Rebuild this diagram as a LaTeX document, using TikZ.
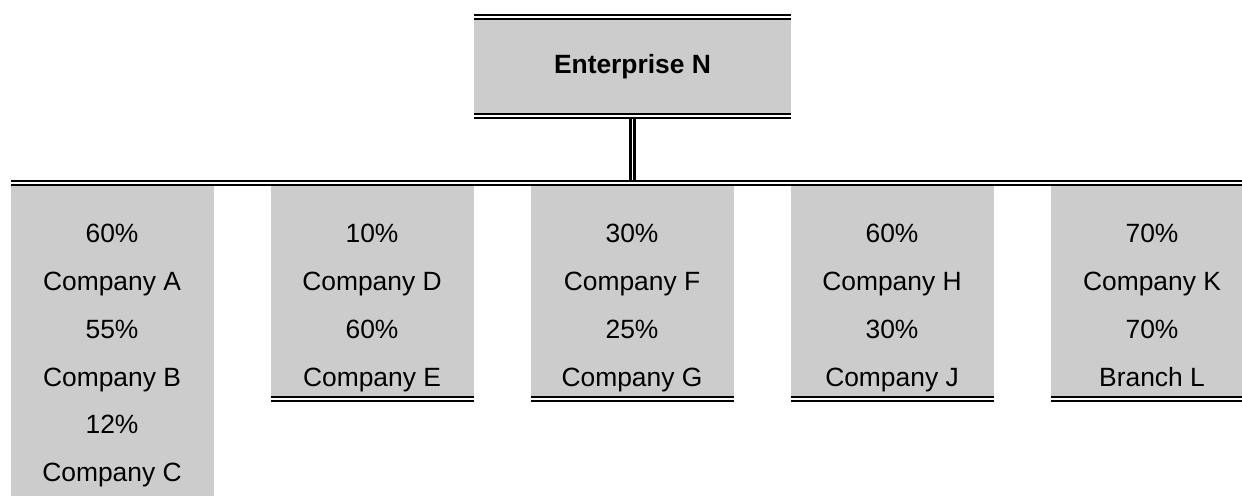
\documentclass[tikz,border=0pt]{standalone}
\usepackage{fontspec}
\setmainfont{Liberation Sans}
\usetikzlibrary{positioning}
\definecolor{boxgray}{HTML}{CCCCCC}

\begin{document}
\begin{tikzpicture}[node distance=28.5pt,
    dline/.style={draw=black,line width=1.15pt,double=white,double distance=0.9pt},
    unit box/.style={rectangle,fill=boxgray,inner sep=0pt,outer sep=0pt,minimum width=101.5pt,minimum height=108pt},
    share text/.style={inner sep=0pt,align=center,font=\fontsize{13.2}{23.9}\selectfont}]

  \clip (0,0) rectangle (621pt,-247.5pt);

  % top of the tree
  \node[rectangle,fill=boxgray,inner sep=0pt,outer sep=0pt,minimum width=158.5pt,minimum height=49.5pt,
        font=\fontsize{13.2}{16}\selectfont\bfseries] (top) at (316.25pt,-33.25pt) {Enterprise N};

  % holdings
  \node[unit box,anchor=north,minimum height=160pt] (b1) at (56pt,-91.5pt) {};
  \node[unit box,right=of b1.north east,anchor=north west] (b2) {};
  \node[unit box,right=of b2.north east,anchor=north west] (b3) {};
  \node[unit box,right=of b3.north east,anchor=north west] (b4) {};
  \node[unit box,right=of b4.north east,anchor=north west] (b5) {};

  \node[share text,below=20.4pt of b1.north] (t1) {60\%\\Company A\\55\%\\Company B\\12\%\\Company C};
  \node[share text,below=20.4pt of b2.north] (t2) {10\%\\Company D\\60\%\\Company E};
  \node[share text,below=20.4pt of b3.north] (t3) {30\%\\Company F\\25\%\\Company G};
  \node[share text,below=20.4pt of b4.north] (t4) {60\%\\Company H\\30\%\\Company J};
  \node[share text,below=20.4pt of b5.north] (t5) {70\%\\Company K\\70\%\\Branch L};

  \coordinate (bus) at (top.south |- b1.north);

  \draw[dline] (top.south) -- (bus);
  \draw[dline] (top.north west) -- (top.north east);
  \draw[dline] (top.south west) -- (top.south east);
  \draw[dline] (b1.north west) -- (b5.north east);
  \foreach \b in {b2,b3,b4,b5}
    \draw[dline] (\b.south west) -- (\b.south east);

\end{tikzpicture}
\end{document}
